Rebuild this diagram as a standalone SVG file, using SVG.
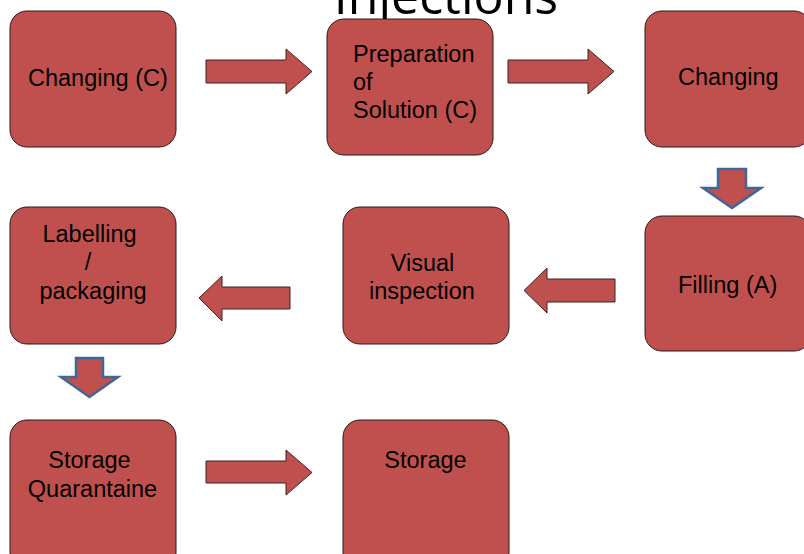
<svg xmlns="http://www.w3.org/2000/svg" width="804" height="554" viewBox="0 0 804 554">
<style>
.box{fill:#C0504D;stroke:#2a1818;stroke-width:1}
.lbl{font-family:"Liberation Sans",Arial,sans-serif;font-size:23.5px;fill:#000}
.ar{fill:#C0504D;stroke:#3a2222;stroke-width:1}
.ad{fill:#C0504D;stroke:#3F669A;stroke-width:2.5;stroke-linejoin:miter}
.title{font-family:"Open Sans","Noto Sans",sans-serif;font-size:50px;fill:#000}
</style>
<rect width="804" height="554" fill="#fff"/>
<text class="title" x="446" y="14" text-anchor="middle">Injections</text>
<g id="connectors">
<path class="ar" d="M206,60 H286 V49 L312,71.5 L286,94 V83 H206 Z"/>
<path class="ar" d="M508,60 H588 V49 L614,71.5 L588,94 V83 H508 Z"/>
<path class="ad" d="M718,169 H746 V188 H761 L732,208 L703,188 H718 Z"/>
<path class="ar" d="M615,279 H547 V268 L524,290.5 L547,313 V302 H615 Z"/>
<path class="ar" d="M290,287 H222 V276 L199,298 L222,321 V309 H290 Z"/>
<path class="ad" d="M76,358 H103 V377 H118 L89.5,397 L61,377 H76 Z"/>
<path class="ar" d="M206,461 H286 V450 L312,472.5 L286,495 V483 H206 Z"/>
</g>
<g id="n1">
<rect class="box" x="10" y="11" width="166" height="136" rx="17"/>
<text class="lbl" x="28" y="86">Changing (C)</text>
</g>
<g id="n2">
<rect class="box" x="327" y="19" width="166" height="136" rx="17"/>
<text class="lbl" x="353" y="62">Preparation</text>
<text class="lbl" x="353" y="90">of</text>
<text class="lbl" x="353" y="118">Solution (C)</text>
</g>
<g id="n3">
<rect class="box" x="645" y="11" width="166" height="136" rx="17"/>
<text class="lbl" x="678" y="85">Changing</text>
</g>
<g id="n4">
<rect class="box" x="645" y="216" width="166" height="135" rx="17"/>
<text class="lbl" x="678" y="293">Filling (A)</text>
</g>
<g id="n5">
<rect class="box" x="343" y="207" width="166" height="137" rx="17"/>
<text class="lbl" x="422.5" y="271" text-anchor="middle">Visual</text>
<text class="lbl" x="422" y="299" text-anchor="middle">inspection</text>
</g>
<g id="n6">
<rect class="box" x="10" y="207" width="166" height="137" rx="17"/>
<text class="lbl" x="89.5" y="242" text-anchor="middle">Labelling</text>
<text class="lbl" x="88" y="270" text-anchor="middle">/</text>
<text class="lbl" x="93" y="299" text-anchor="middle">packaging</text>
</g>
<g id="n7">
<rect class="box" x="10" y="420" width="166" height="150" rx="17"/>
<text class="lbl" x="89.5" y="468" text-anchor="middle">Storage</text>
<text class="lbl" x="92.5" y="497" text-anchor="middle">Quarantaine</text>
</g>
<g id="n8">
<rect class="box" x="343" y="420" width="166" height="150" rx="17"/>
<text class="lbl" x="425.5" y="468" text-anchor="middle">Storage</text>
</g>
</svg>
